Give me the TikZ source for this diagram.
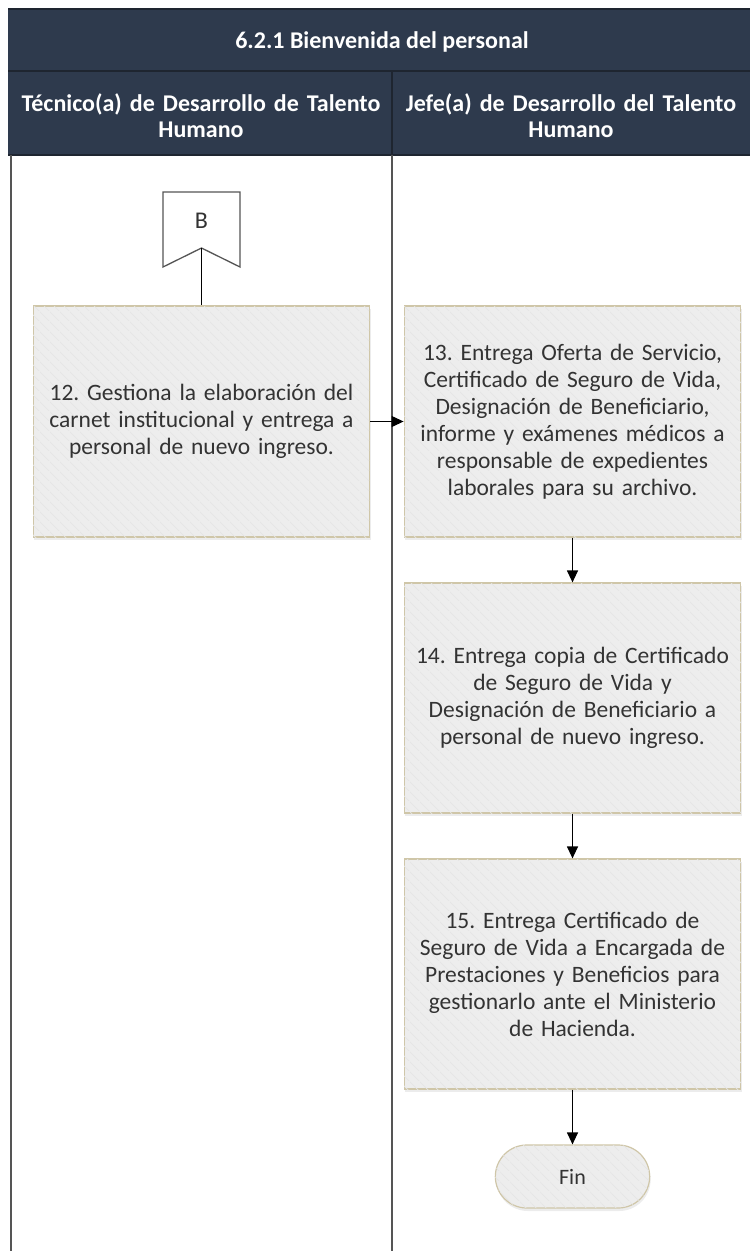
\documentclass[tikz,border=0pt]{standalone}
\usepackage{fontspec}
\setmainfont{Carlito}
\usetikzlibrary{arrows.meta,shadows,patterns.meta,shapes.misc}
\definecolor{navy}{HTML}{2E3A4D}
\definecolor{navyline}{HTML}{1E2530}
\definecolor{boxfill}{HTML}{EDEDED}
\definecolor{hatchc}{HTML}{E5E5E5}
\definecolor{boxline}{HTML}{CFC6A8}
\definecolor{txt}{HTML}{333333}
\definecolor{lane}{HTML}{555555}
\tikzdeclarepattern{name=hatchnw, type=uncolored, bounding box={(0,0) and (10pt,10pt)}, tile size={(10pt,10pt)},
  code={\draw[line width=0.7pt] (0,10pt) -- (10pt,0);}}
\tikzset{
  procbox/.style={draw=boxline, line width=1.2pt, fill=boxfill, minimum width=333pt, minimum height=230pt,
    text width=330pt, align=center, font=\fontsize{23.5}{27}\selectfont, text=txt,
    postaction={pattern=hatchnw, pattern color=hatchc},
    drop shadow={opacity=0.15, shadow xshift=1pt, shadow yshift=-3pt}},
  finbox/.style={draw=boxline, line width=1.2pt, fill=boxfill, rounded rectangle, minimum width=161pt, minimum height=63pt,
    font=\fontsize{22}{24}\selectfont, text=txt,
    postaction={pattern=hatchnw, pattern color=hatchc},
    drop shadow={opacity=0.15, shadow xshift=1pt, shadow yshift=-3pt}},
  flow/.style={line width=1.2pt, draw=black, -{Triangle[width=11pt,length=12pt]}},
  hdrtext/.style={text=white, font=\bfseries\fontsize{24}{26}\selectfont, align=center},
  laneline/.style={draw=lane, line width=2.4pt}
}
\frenchspacing
\begin{document}
\begin{tikzpicture}[x=1pt,y=-1pt]
\useasboundingbox (0,0) rectangle (750,1251);
% header
\fill[navy] (8,9) rectangle (752,155);
\draw[navyline, line width=1.2pt] (8,9) -- (752,9);
\draw[navyline, line width=1.5pt] (8,71) -- (752,71);
\draw[navyline, line width=1.5pt] (8,155) -- (752,155);
\draw[navyline, line width=1.5pt] (392,71) -- (392,155);
\node[hdrtext] (title) at (382,42) {6.2.1 Bienvenida del personal};
\node[hdrtext, text width=385pt] (lane1) at (201,116) {Técnico(a) de Desarrollo de Talento\\Humano};
\node[hdrtext, text width=355pt] (lane2) at (571,116) {Jefe(a) de Desarrollo del Talento\\Humano};
% lanes
\draw[laneline] (11,155) -- (11,1251);
\draw[laneline] (392,155) -- (392,1251);
% off-page connector B
\filldraw[draw=lane, fill=white, line width=1.3pt] (163,192) -- (240,192) -- (240,267) -- (201.5,248) -- (163,267) -- cycle;
\node[font=\fontsize{24}{26}\selectfont, text=txt] (B) at (201.5,221) {B};
\coordinate (Bpt) at (201.5,248);
% process boxes
\node[procbox, minimum height=231pt] (b12) at (201.5,421.5) {12. Gestiona la elaboración del\\carnet institucional y entrega a\\personal de nuevo ingreso.};
\node[procbox, minimum height=231pt] (b13) at (572.5,421.5) {13. Entrega Oferta de Servicio,\\Certificado de Seguro de Vida,\\Designación de Beneficiario,\\informe y exámenes médicos a\\responsable de expedientes\\laborales para su archivo.};
\node[procbox] (b14) at (572.5,698) {14. Entrega copia de Certificado\\de Seguro de Vida y\\Designación de Beneficiario a\\personal de nuevo ingreso.};
\node[procbox] (b15) at (572.5,974) {15. Entrega Certificado de\\Seguro de Vida a Encargada de\\Prestaciones y Beneficios para\\gestionarlo ante el Ministerio\\de Hacienda.};
\node[finbox] (fin) at (572.5,1176.5) {Fin};
% connectors
\draw[line width=1.2pt] (Bpt) -- (b12.north);
\draw[flow] (b12.east) -- (b13.west);
\draw[flow] (b13.south) -- (b14.north);
\draw[flow] (b14.south) -- (b15.north);
\draw[flow] (b15.south) -- (fin.north);
\end{tikzpicture}
\end{document}
